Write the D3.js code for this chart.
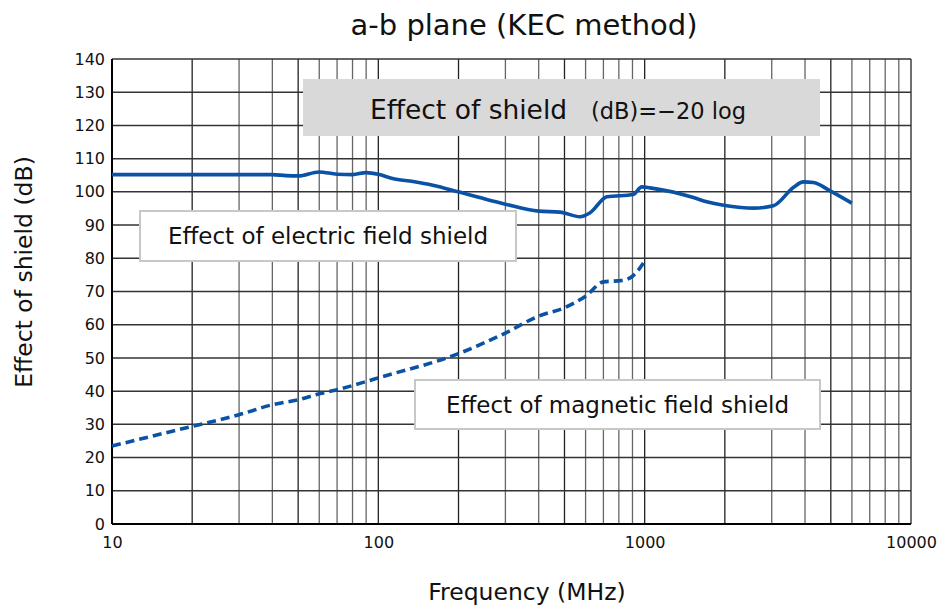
<!DOCTYPE html>
<html>
<head>
<meta charset="utf-8">
<script src="https://cdn.jsdelivr.net/npm/d3@7/dist/d3.min.js"></script>
<style>
  body { margin: 0; background: #fff; }
  text { font-family: "DejaVu Sans", Verdana, sans-serif; fill: #111; }
</style>
</head>
<body>
<div id="container"></div>
<script>
// chart values
const electricFreq = [10, 20, 30, 40, 45, 50, 60, 70, 80, 90, 100, 113, 135, 160, 200, 240, 300, 400, 481, 572, 624, 721, 907, 975, 1048, 1524, 1711, 2033, 2560, 3042, 3616, 3945, 4303, 4970, 5996]
const electricDb = [105.2, 105.2, 105.2, 105.2, 104.9, 104.8, 106, 105.3, 105.2, 105.8, 105.3, 104, 103.1, 102, 100, 98.3, 96.3, 94.2, 93.9, 92.5, 93.7, 98.5, 99.2, 101.5, 101.2, 98.3, 97, 95.8, 95.1, 95.8, 101.3, 103, 102.8, 100.3, 96.6]

const magneticFreq = [10, 20, 30, 40, 50, 60, 70, 90, 100, 200, 300, 400, 500, 600, 700, 820, 900, 1000]
const magneticDb = [23.5, 29.4, 32.9, 35.9, 37.4, 39.2, 40.4, 42.9, 44, 51.3, 57.5, 62.6, 65.1, 68.6, 72.9, 73.3, 74.6, 79.1]

const xTicks = [10, 100, 1000, 10000]
const yTicks = d3.range(0, 141, 10)

const title = 'a-b plane (KEC method)'
const xTitle = 'Frequency (MHz)'
const yTitle = 'Effect of shield (dB)'

const LINE_COLOR = '#0a52a5'

var width = 944, height = 605
var mLeft = 112, mTop = 59, mRight = 911, mBottom = 524

var svg = d3.select('#container').append('svg')
    .attr('width', width)
    .attr('height', height)

var x = d3.scaleLog().domain([10, 10000]).range([mLeft, mRight])
var y = d3.scaleLinear().domain([0, 140]).range([mBottom, mTop])

// grid
var minor = []
for (var d = 10; d < 10000; d *= 10) {
    for (var k = 1; k < 10; k++) minor.push(d * k)
}
minor.push(10000)

svg.append('g').selectAll('line').data(minor).join('line')
    .attr('x1', d => x(d)).attr('x2', d => x(d))
    .attr('y1', mTop).attr('y2', mBottom)
    .attr('stroke', d => [1, 2, 5].includes(Math.round(d / Math.pow(10, Math.floor(Math.log10(d) + 1e-9)))) ? '#222' : '#666')
    .attr('stroke-width', 1.3)

svg.append('g').selectAll('line').data(yTicks).join('line')
    .attr('x1', mLeft).attr('x2', mRight)
    .attr('y1', d => y(d)).attr('y2', d => y(d))
    .attr('stroke', '#333')
    .attr('stroke-width', 1.5)

// axes frame
svg.append('line').attr('x1', mLeft).attr('x2', mLeft).attr('y1', mTop).attr('y2', mBottom)
    .attr('stroke', '#000').attr('stroke-width', 2)
svg.append('line').attr('x1', mLeft).attr('x2', mRight).attr('y1', mBottom).attr('y2', mBottom)
    .attr('stroke', '#000').attr('stroke-width', 2)

// tick labels
var xAxis = svg.append('g')
    .attr('transform', 'translate(0,' + mBottom + ')')
    .call(d3.axisBottom(x).tickValues(xTicks).tickFormat(d3.format('d')).tickSize(0).tickPadding(13))
xAxis.select('.domain').remove()
xAxis.selectAll('text').style('font-size', '16px').style('font-family', '"DejaVu Sans", sans-serif').attr('fill', '#111')

var yAxis = svg.append('g')
    .attr('transform', 'translate(' + mLeft + ',0)')
    .call(d3.axisLeft(y).tickValues(yTicks).tickSize(0).tickPadding(7))
yAxis.select('.domain').remove()
yAxis.selectAll('text').style('font-size', '16px').style('font-family', '"DejaVu Sans", sans-serif').attr('fill', '#111')

// title and axis titles
svg.append('text').attr('x', 524).attr('y', 35).attr('text-anchor', 'middle')
    .style('font-size', '29px').text(title)
svg.append('text').attr('x', 527).attr('y', 600).attr('text-anchor', 'middle')
    .style('font-size', '23.5px').text(xTitle)
svg.append('text').attr('transform', 'translate(32,272) rotate(-90)').attr('text-anchor', 'middle')
    .style('font-size', '23.5px').text(yTitle)

// formula box
svg.append('rect').attr('x', 303).attr('y', 79).attr('width', 517).attr('height', 57).attr('fill', '#d9d9d9')
svg.append('text').attr('x', 370).attr('y', 119).style('font-size', '26.5px').text('Effect of shield')
svg.append('text').attr('x', 591).attr('y', 119).style('font-size', '22.5px').text('(dB)=\u221220 log')

// legend boxes
function labelBox(bx, by, bw, bh, label) {
    svg.append('rect').attr('x', bx).attr('y', by).attr('width', bw).attr('height', bh)
        .attr('fill', '#fff').attr('stroke', '#c8c8c8').attr('stroke-width', 2)
    svg.append('text').attr('x', bx + bw / 2).attr('y', by + bh / 2 + 8).attr('text-anchor', 'middle')
        .style('font-size', '23px').text(label)
}
labelBox(140, 211, 376, 50, 'Effect of electric field shield')
labelBox(415, 380, 405, 49, 'Effect of magnetic field shield')

// curves
var line = d3.line().x(d => x(d[0])).y(d => y(d[1])).curve(d3.curveMonotoneX)

svg.append('path')
    .datum(d3.zip(electricFreq, electricDb))
    .attr('d', line)
    .attr('fill', 'none')
    .attr('stroke', LINE_COLOR)
    .attr('stroke-width', 3.6)

svg.append('path')
    .datum(d3.zip(magneticFreq, magneticDb))
    .attr('d', line)
    .attr('fill', 'none')
    .attr('stroke', LINE_COLOR)
    .attr('stroke-width', 3.6)
    .attr('stroke-dasharray', '9,5')
</script>
</body>
</html>
